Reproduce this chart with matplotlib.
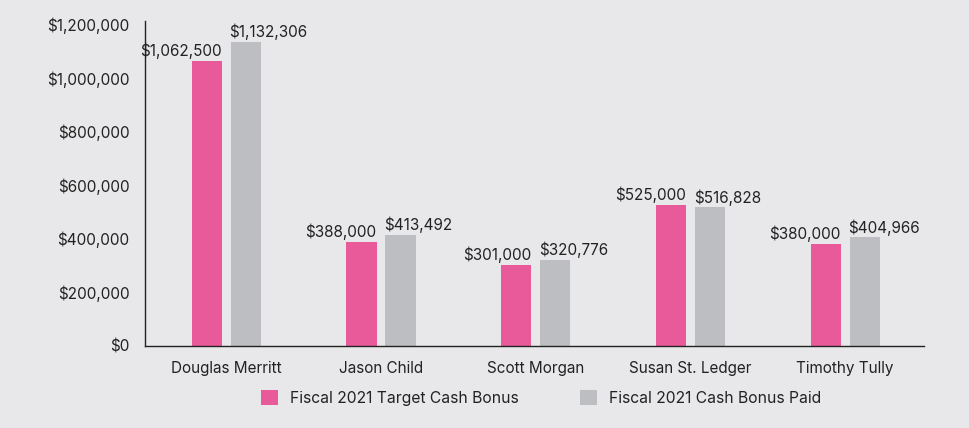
import matplotlib
matplotlib.use("Agg")
import matplotlib.pyplot as plt
from matplotlib.patches import Patch
import numpy as np

categories = ["Douglas Merritt", "Jason Child", "Scott Morgan", "Susan St. Ledger", "Timothy Tully"]
target_bonus = [1062500, 388000, 301000, 525000, 380000]
paid_bonus = [1132306, 413492, 320776, 516828, 404966]
series_names = ["Fiscal 2021 Target Cash Bonus", "Fiscal 2021 Cash Bonus Paid"]
y_ticks = [0, 200000, 400000, 600000, 800000, 1000000, 1200000]

BG = "#E8E8EA"
PINK = "#E95A9A"
GREY = "#BDBEC1"
TXT = "#222222"

plt.rcParams['font.family'] = ['Inter', 'DejaVu Sans']

fig = plt.figure(figsize=(9.7, 4.28), dpi=100, facecolor=BG)
ax = fig.add_axes([0.1495, 0.1916, 0.9526 - 0.1495, 0.951 - 0.1916])
ax.set_facecolor(BG)

x = np.arange(len(categories))
w = 0.195
off = 0.126
b1 = ax.bar(x - off, target_bonus, w, color=PINK)
b2 = ax.bar(x + off, paid_bonus, w, color=GREY)

for xi, v in zip(x, target_bonus):
    ax.annotate(f"${v:,.0f}", (xi - off + w / 2, v), xytext=(0, 3.5),
                textcoords="offset points", ha="right", va="baseline",
                fontsize=11, color=TXT)
for xi, v in zip(x, paid_bonus):
    ax.annotate(f"${v:,.0f}", (xi + off - w / 2, v), xytext=(-0.8, 3.5),
                textcoords="offset points", ha="left", va="baseline",
                fontsize=11, color=TXT)

ax.set_xlim(-0.525, 4.51)
ax.set_ylim(0, 1212000)
ax.set_yticks(y_ticks)
ax.set_yticklabels([f"${t:,.0f}" for t in y_ticks])
ax.set_xticks(x)
ax.set_xticklabels(categories)
ax.tick_params(axis="y", length=0, pad=11, labelsize=11, labelcolor=TXT)
ax.tick_params(axis="x", length=0, pad=11, labelsize=11, labelcolor=TXT)
for s in ["top", "right"]:
    ax.spines[s].set_visible(False)
for s in ["left", "bottom"]:
    ax.spines[s].set_color("#222222")
    ax.spines[s].set_linewidth(1.0)

handles = [Patch(facecolor=PINK, edgecolor="none"), Patch(facecolor=GREY, edgecolor="none")]
fig.legend(handles, series_names, loc="center", bbox_to_anchor=(0.558, 0.070),
           ncol=2, frameon=False, fontsize=11.3, handlelength=1.1, handleheight=1.1,
           handletextpad=0.75, columnspacing=3.9, labelcolor=TXT)

fig.savefig("out.png", dpi=100, facecolor=BG)
